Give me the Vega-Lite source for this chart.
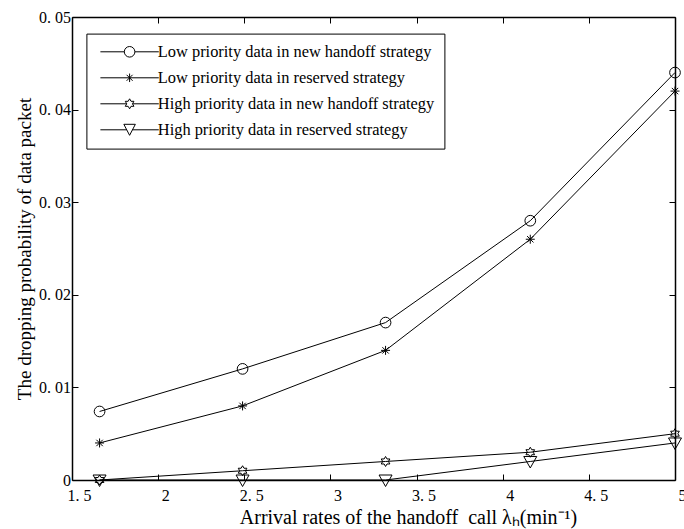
{
  "$schema": "https://vega.github.io/schema/vega-lite/v6.json",
  "width": 603,
  "height": 463,
  "autosize": "none",
  "padding": {"left": 72, "top": 17, "right": 9, "bottom": 49},
  "background": "white",
  "config": {"font": "Liberation Serif", "view": {"stroke": null}},
  "data": {
    "values": [
      {"series": "Low priority data in new handoff strategy", "x": 1.66, "y": 0.0074},
      {"series": "Low priority data in new handoff strategy", "x": 2.49, "y": 0.012},
      {"series": "Low priority data in new handoff strategy", "x": 3.32, "y": 0.017},
      {"series": "Low priority data in new handoff strategy", "x": 4.16, "y": 0.028},
      {"series": "Low priority data in new handoff strategy", "x": 5.0, "y": 0.044},
      {"series": "Low priority data in reserved strategy", "x": 1.66, "y": 0.004},
      {"series": "Low priority data in reserved strategy", "x": 2.49, "y": 0.008},
      {"series": "Low priority data in reserved strategy", "x": 3.32, "y": 0.014},
      {"series": "Low priority data in reserved strategy", "x": 4.16, "y": 0.026},
      {"series": "Low priority data in reserved strategy", "x": 5.0, "y": 0.042},
      {"series": "High priority data in new handoff strategy", "x": 1.66, "y": 0.0},
      {"series": "High priority data in new handoff strategy", "x": 2.49, "y": 0.001},
      {"series": "High priority data in new handoff strategy", "x": 3.32, "y": 0.002},
      {"series": "High priority data in new handoff strategy", "x": 4.16, "y": 0.003},
      {"series": "High priority data in new handoff strategy", "x": 5.0, "y": 0.005},
      {"series": "High priority data in reserved strategy", "x": 1.66, "y": 0.0},
      {"series": "High priority data in reserved strategy", "x": 2.49, "y": 0.0},
      {"series": "High priority data in reserved strategy", "x": 3.32, "y": 0.0},
      {"series": "High priority data in reserved strategy", "x": 4.16, "y": 0.002},
      {"series": "High priority data in reserved strategy", "x": 5.0, "y": 0.004}
    ]
  },
  "layer": [
    {
      "mark": {"type": "line", "color": "black", "strokeWidth": 1},
      "encoding": {
        "x": {
          "field": "x", "type": "quantitative",
          "scale": {"domain": [1.5, 5], "nice": false, "zero": false},
          "axis": {
            "orient": "bottom",
            "values": [1.5, 2, 2.5, 3, 3.5, 4, 4.5, 5],
            "labelExpr": "datum.value == floor(datum.value) ? format(datum.value, 'd') : replace(format(datum.value, '.1f'), '.', '. ')",
            "title": "Arrival rates of the handoff\u00a0 call λₕ(min⁻¹)",
            "titleX": 336,
            "grid": false, "tickSize": -6, "labelPadding": 13, "labelOffset": 7,
            "labelFlush": false, "labelOverlap": false,
            "domainColor": "black", "domainWidth": 1.5, "tickColor": "black", "tickWidth": 1,
            "labelColor": "black", "labelFontSize": 16, "labelFont": "Liberation Serif",
            "titleColor": "black", "titleFontSize": 20, "titleFontWeight": "normal", "titleFont": "Liberation Serif",
            "titlePadding": 4
          }
        },
        "y": {
          "field": "y", "type": "quantitative",
          "scale": {"domain": [0, 0.05], "nice": false},
          "axis": {
            "orient": "left",
            "values": [0, 0.01, 0.02, 0.03, 0.04, 0.05],
            "labelExpr": "datum.value == 0 ? '0' : replace(format(datum.value, '.2f'), '.', '. ')",
            "title": "The dropping probability of data packet",
            "grid": false, "tickSize": -6, "labelPadding": 7.5,
            "labelFlush": false, "labelOverlap": false,
            "domainColor": "black", "domainWidth": 1.5, "tickColor": "black", "tickWidth": 1,
            "labelColor": "black", "labelFontSize": 16, "labelFont": "Liberation Serif",
            "titleColor": "black", "titleFontSize": 19, "titleFontWeight": "normal", "titleFont": "Liberation Serif",
            "titlePadding": 4
          }
        },
        "detail": {"field": "series", "type": "nominal"}
      }
    },
    {
      "mark": {"type": "point", "filled": false, "color": "black", "size": 100, "strokeWidth": 1, "opacity": 1},
      "encoding": {
        "x": {"field": "x", "type": "quantitative", "axis": null},
        "y": {"field": "y", "type": "quantitative", "axis": null},
        "shape": {
          "field": "series", "type": "nominal",
          "scale": {
            "domain": ["Low priority data in new handoff strategy", "Low priority data in reserved strategy", "High priority data in new handoff strategy", "High priority data in reserved strategy"],
            "range": [
              "M1.07,0A1.07,1.07 0 1 1 -1.07,0A1.07,1.07 0 1 1 1.07,0Z",
              "M-0.9,0L0.9,0M0,-0.9L0,0.9M-0.64,-0.64L0.64,0.64M-0.64,0.64L0.64,-0.64",
              "M0,-1L0.289,-0.5L0.866,-0.5L0.577,0L0.866,0.5L0.289,0.5L0,1L-0.289,0.5L-0.866,0.5L-0.577,0L-0.866,-0.5L-0.289,-0.5Z",
              "M-1.3,-1L1.3,-1L0,1.3Z"
            ]
          },
          "legend": null
        }
      }
    },
    {
      "transform": [{"filter": "datum.y < 0"}],
      "mark": {"type": "point", "filled": false, "color": "black", "size": 100, "strokeWidth": 1},
      "encoding": {
        "x": {
          "field": "x", "type": "quantitative",
          "axis": {"orient": "top", "values": [1.5, 2, 2.5, 3, 3.5, 4, 4.5, 5], "labels": false, "title": null, "grid": false, "tickSize": -6, "domainColor": "black", "domainWidth": 1.5, "tickColor": "black", "tickWidth": 1}
        },
        "y": {
          "field": "y", "type": "quantitative",
          "axis": {"orient": "right", "values": [0, 0.01, 0.02, 0.03, 0.04, 0.05], "labels": false, "title": null, "grid": false, "tickSize": -6, "domainColor": "black", "domainWidth": 1.5, "tickColor": "black", "tickWidth": 1}
        },
        "shape": {
          "field": "series", "type": "nominal",
          "scale": {
            "domain": ["Low priority data in new handoff strategy", "Low priority data in reserved strategy", "High priority data in new handoff strategy", "High priority data in reserved strategy"],
            "range": [
              "M-5.84,0L-1.06,0M5.84,0L1.06,0M1.06,0A1.06,1.06 0 1 1 -1.06,0A1.06,1.06 0 1 1 1.06,0",
              "M-5.84,0L5.84,0M0,-0.85L0,0.85M-0.6,-0.6L0.6,0.6M-0.6,0.6L0.6,-0.6",
              "M-5.84,0L-0.577,0M5.84,0L0.577,0M0,-1L0.289,-0.5L0.866,-0.5L0.577,0L0.866,0.5L0.289,0.5L0,1L-0.289,0.5L-0.866,0.5L-0.577,0L-0.866,-0.5L-0.289,-0.5Z",
              "M-5.84,0L-0.58,0M5.84,0L0.58,0M-1.15,-1.1L1.15,-1.1L0,1.1Z"
            ]
          },
          "legend": {
            "title": null, "orient": "none", "legendX": 14.4, "legendY": 16.6,
            "strokeColor": "black", "fillColor": "white", "padding": 10, "cornerRadius": 0,
            "symbolSize": 100, "symbolOffset": 25, "labelOffset": 20,
            "symbolStrokeColor": "black", "symbolFillColor": "transparent", "symbolStrokeWidth": 1, "symbolOpacity": 1,
            "labelFont": "Liberation Serif", "labelFontSize": 16.4, "labelColor": "black", "labelLimit": 500,
            "rowPadding": 9
          }
        }
      }
    }
  ],
  "resolve": {
    "scale": {"shape": "independent"},
    "legend": {"shape": "independent"},
    "axis": {"x": "independent", "y": "independent"}
  }
}
